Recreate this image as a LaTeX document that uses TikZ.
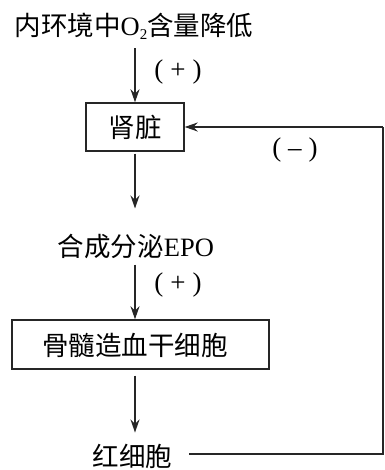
\documentclass[tikz,border=0pt]{standalone}
\usepackage{fontspec}
\setmainfont{Liberation Serif}
\newfontfamily\cjk{Noto Sans CJK SC}
\usetikzlibrary{arrows.meta}
\begin{document}
\begin{tikzpicture}[x=1pt,y=-1pt,
  every node/.style={inner sep=0pt,font=\fontsize{26.5}{28}\selectfont},
  boxnode/.style={draw=black!85,line width=1.4pt},
  arr/.style={draw=black!85,line width=1.4pt,-{Stealth[length=13pt,width=9pt]}},
  ln/.style={draw=black!85,line width=1.4pt},
  lbl/.style={font=\fontsize{27}{28}\selectfont}]
\useasboundingbox (0,0) rectangle (384,470);
\node (top) at (134,26) {{\cjk 内环境中}O\raisebox{-0.15em}{\fontsize{15}{15}\selectfont 2}{\cjk 含量降低}};
\node[boxnode,minimum width=98pt,minimum height=48pt] (kidney) at (135,127) {\cjk 肾脏};
\node (epo) at (136,246) {{\cjk 合成分泌}EPO};
\node[boxnode,minimum width=257pt,minimum height=49pt] (marrow) at (140.5,344.5) {};
\node (marrowtxt) at (135,345) {\cjk 骨髓造血干细胞};
\node (rbc) at (132.5,456) {\cjk 红细胞};
\coordinate (c1) at (383,454);
\coordinate (c2) at (383,127);
\node[lbl] (p1) at (178,72) {(\hspace{7pt}+\hspace{7pt})};
\node[lbl] (p2) at (178,285) {(\hspace{7pt}+\hspace{7pt})};
\node[lbl] (m1) at (295,150) {(\hspace{7pt}–\hspace{7pt})};
\draw[arr,shorten <=9pt] (top.south -| kidney.north) -- (kidney.north);
\draw[arr,shorten <=2pt,shorten >=25pt] (kidney.south) -- (epo.north -| kidney.south);
\draw[arr,shorten <=6pt] (epo.south -| kidney.south) -- (marrow.north -| kidney.south);
\draw[arr,shorten <=6pt,shorten >=11pt] (marrow.south -| kidney.south) -- (rbc.north -| kidney.south);
\draw[ln,shorten <=17pt] (rbc.east |- c1) -- (c1) -- (c2);
\draw[arr] (c2) -- (kidney.east);
\end{tikzpicture}
\end{document}
